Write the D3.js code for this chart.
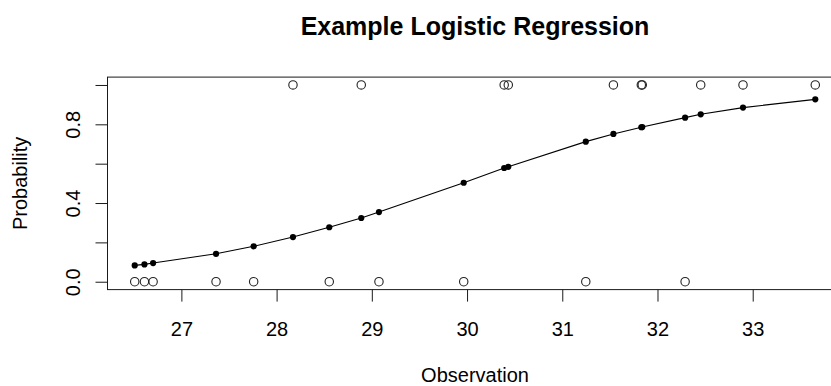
<!DOCTYPE html>
<html>
<head>
<meta charset="utf-8">
<script src="https://cdn.jsdelivr.net/npm/d3@7"></script>
<style>
  html, body { margin: 0; padding: 0; background: #fff; overflow: hidden; }
  svg { display: block; font-family: "Liberation Sans", Arial, Helvetica, sans-serif; }
</style>
</head>
<body>
<svg id="chart" width="831" height="386"></svg>
<script>
// Observed values (x), binary outcomes and fitted probabilities from the logistic model
const observation = [26.510, 26.612, 26.703, 27.364, 27.759, 28.172, 28.553, 28.889, 29.075, 29.965,
                     30.390, 30.433, 31.247, 31.537, 31.830, 31.840, 32.290, 32.454, 32.898, 33.657];
const outcome     = [0, 0, 0, 0, 0, 1, 0, 1, 0, 0,
                     1, 1, 0, 1, 1, 1, 0, 1, 1, 1];
const fitted      = [0.083, 0.088, 0.095, 0.142, 0.180, 0.227, 0.277, 0.324, 0.354, 0.503,
                     0.578, 0.584, 0.712, 0.751, 0.785, 0.786, 0.834, 0.851, 0.885, 0.927];

const xTicks = [27, 28, 29, 30, 31, 32, 33];
const yTicks = [0, 0.2, 0.4, 0.6, 0.8, 1.0];
const yTickLabels = ["0.0", "", "0.4", "", "0.8", ""];

const titleText = "Example Logistic Regression";
const xLabel = "Observation";
const yLabel = "Probability";

const svg = d3.select("#chart");

// plot region; limits padded by 4% of the data range on each side
const plot = { left: 107.5, right: 842.5, top: 77.1, bottom: 289.6 };
const xMin = d3.min(observation), xMax = d3.max(observation);
const xPad = (xMax - xMin) * 0.04;
const x = d3.scaleLinear().domain([xMin - xPad, xMax + xPad]).range([plot.left, plot.right]);
const y = d3.scaleLinear().domain([-0.04, 1.04]).range([plot.bottom, plot.top]);

const ink = "#1a1a1a";

// x axis
const xAxis = svg.append("g")
  .attr("transform", `translate(0,${plot.bottom})`)
  .call(d3.axisBottom(x).tickValues(xTicks).tickSize(12).tickSizeOuter(0).tickFormat(d3.format("d")));
xAxis.select(".domain").remove();
xAxis.selectAll(".tick line").attr("stroke", ink).attr("stroke-width", 1);
xAxis.selectAll(".tick text")
  .attr("y", 46).attr("dy", null)
  .attr("fill", "#000").style("font-size", "20px");

// y axis with labels running parallel to the axis
const yAxis = svg.append("g")
  .attr("transform", `translate(${plot.left},0)`)
  .call(d3.axisLeft(y).tickValues(yTicks).tickSize(12).tickSizeOuter(0)
    .tickFormat((d, i) => yTickLabels[i]));
yAxis.select(".domain").remove();
yAxis.selectAll(".tick line").attr("stroke", ink).attr("stroke-width", 1);
yAxis.selectAll(".tick text")
  .attr("x", null).attr("dy", null)
  .attr("text-anchor", "middle")
  .attr("transform", `translate(${80 - plot.left},0) rotate(-90)`)
  .attr("fill", "#000").style("font-size", "20px");

// plot frame
svg.append("rect")
  .attr("x", plot.left).attr("y", plot.top)
  .attr("width", plot.right - plot.left).attr("height", plot.bottom - plot.top)
  .attr("fill", "none").attr("stroke", ink).attr("stroke-width", 1);

// fitted curve
const line = d3.line().x((d, i) => x(observation[i])).y(d => y(d));
svg.append("path")
  .datum(fitted)
  .attr("d", line)
  .attr("fill", "none").attr("stroke", "#000").attr("stroke-width", 1.1);

// observed outcomes as open circles
svg.append("g").selectAll("circle")
  .data(outcome)
  .join("circle")
  .attr("cx", (d, i) => x(observation[i]))
  .attr("cy", d => y(d))
  .attr("r", 4.2)
  .attr("fill", "none").attr("stroke", "#222").attr("stroke-width", 1.1);

// fitted probabilities as solid dots
svg.append("g").selectAll("circle")
  .data(fitted)
  .join("circle")
  .attr("cx", (d, i) => x(observation[i]))
  .attr("cy", d => y(d))
  .attr("r", 3.1)
  .attr("fill", "#000");

// title and axis titles
const midX = (plot.left + plot.right) / 2;
svg.append("text")
  .attr("x", midX).attr("y", 35)
  .attr("text-anchor", "middle")
  .style("font-size", "25px").style("font-weight", "bold")
  .text(titleText);

svg.append("text")
  .attr("x", midX).attr("y", 382)
  .attr("text-anchor", "middle")
  .style("font-size", "20px")
  .text(xLabel);

svg.append("text")
  .attr("transform", `translate(27,${(plot.top + plot.bottom) / 2}) rotate(-90)`)
  .attr("text-anchor", "middle")
  .style("font-size", "20px")
  .text(yLabel);
</script>
</body>
</html>
